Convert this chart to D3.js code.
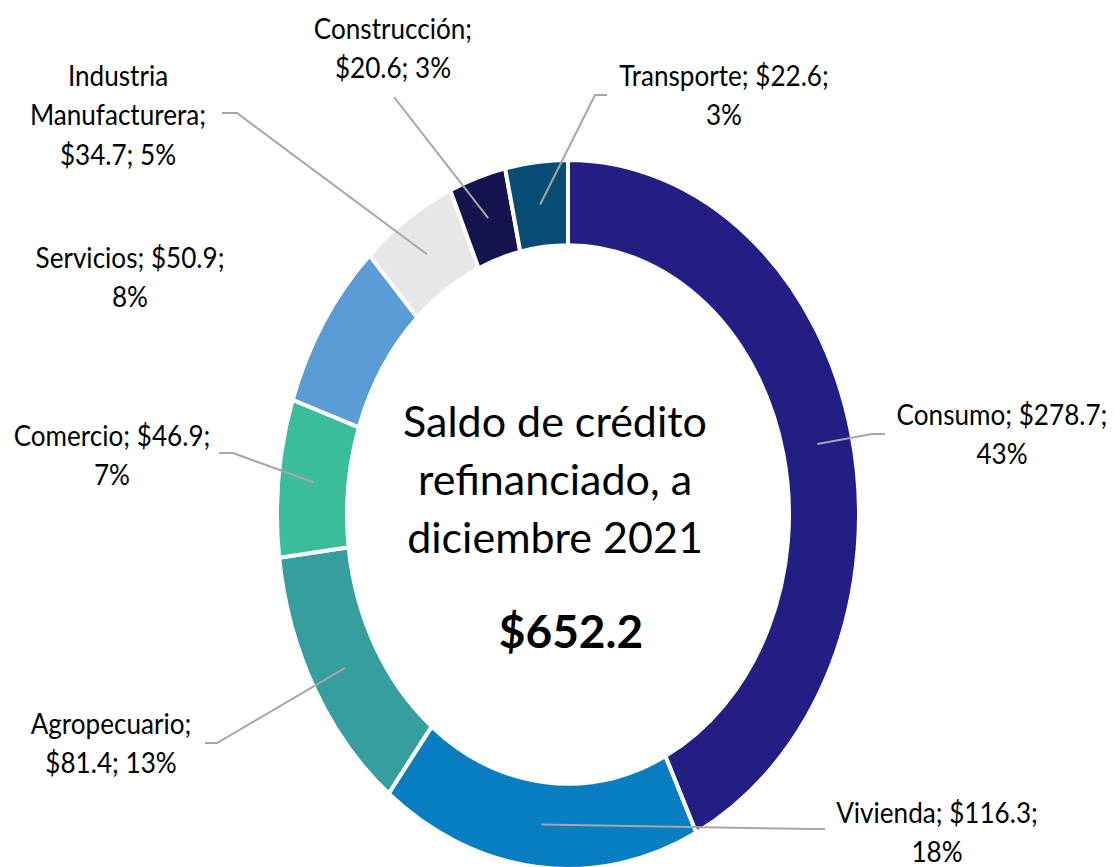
<!DOCTYPE html>
<html>
<head>
<meta charset="utf-8">
<script src="https://cdn.jsdelivr.net/npm/d3@7"></script>
<style>
  html, body { margin: 0; padding: 0; background: #ffffff; }
  svg { display: block; }
</style>
</head>
<body>
<svg id="chart" width="1114" height="867"></svg>
<script>
// ---- data ----
const categories = ["Consumo", "Vivienda", "Agropecuario", "Comercio", "Servicios",
                    "Industria Manufacturera", "Construcción", "Transporte"];
const values = [278.7, 116.3, 81.4, 46.9, 50.9, 34.7, 20.6, 22.6];
const percents = ["43%", "18%", "13%", "7%", "8%", "5%", "3%", "3%"];
const labelLines = [
  ["Consumo; $278.7;", "43%"],
  ["Vivienda; $116.3;", "18%"],
  ["Agropecuario;", "$81.4; 13%"],
  ["Comercio; $46.9;", "7%"],
  ["Servicios; $50.9;", "8%"],
  ["Industria", "Manufacturera;", "$34.7; 5%"],
  ["Construcción;", "$20.6; 3%"],
  ["Transporte; $22.6;", "3%"]
];
const centerTitle = ["Saldo de crédito", "refinanciado, a", "diciembre 2021"];
const totalLabel = "$652.2";

// ---- styles ----
const colors = ["#221E83", "#087DC2", "#369E9F", "#3BBC9B", "#5B9BD6",
                "#E6E7E8", "#141350", "#064C73"];

// ---- layout (positions only) ----
const cx = 568, cy = 514.5, outerR = 291, innerR = 221, yStretch = 1.218;
const labelLayout = [
  { x: 1002, y: 425, line: [[872, 434], [885, 434]] },
  { x: 937,  y: 823, line: [[812, 829], [825, 829]] },
  { x: 111,  y: 734, line: [[217, 743], [205, 743]] },
  { x: 112,  y: 446, line: [[233, 453], [219, 453]] },
  { x: 130,  y: 268, line: null },
  { x: 118,  y: 86,  line: [[237, 113], [222, 113]] },
  { x: 393,  y: 39,  line: [[394, 97], [394, 97]] },
  { x: 724,  y: 86,  line: [[595, 95], [607, 95]] }
];
const lineGap = 39.5;
const labelScaleX = 0.9;

const svg = d3.select("#chart");
const data = categories.map((c, i) => ({ name: c, value: values[i], idx: i }));

const pie = d3.pie().value(d => d.value).sort(null).startAngle(0).endAngle(2 * Math.PI);
const arcs = pie(data);
const arc = d3.arc().innerRadius(innerR).outerRadius(outerR);

const ring = svg.append("g")
  .attr("transform", `translate(${cx},${cy}) scale(1,${yStretch})`);

ring.selectAll("path")
  .data(arcs)
  .join("path")
  .attr("d", arc)
  .attr("fill", d => colors[d.data.idx])
  .attr("stroke", "#ffffff")
  .attr("stroke-width", 4)
  .attr("vector-effect", "non-scaling-stroke");

// leader lines
const lineGen = d3.line();
const leaders = svg.append("g");
arcs.forEach(a => {
  const lay = labelLayout[a.data.idx];
  if (!lay.line) return;
  const c = arc.centroid(a);
  const start = [cx + c[0], cy + c[1] * yStretch];
  leaders.append("path")
    .attr("d", lineGen([start, ...lay.line]))
    .attr("fill", "none")
    .attr("stroke", "#A6A6A6")
    .attr("stroke-width", 2);
});

// labels
const labels = svg.append("g");
labelLines.forEach((lines, i) => {
  const lay = labelLayout[i];
  const g = labels.append("g")
    .attr("transform", `translate(${lay.x},${lay.y}) scale(${labelScaleX},1)`);
  lines.forEach((t, j) => {
    g.append("text")
      .attr("x", 0)
      .attr("y", j * lineGap)
      .attr("text-anchor", "middle")
      .attr("font-family", "Lato, 'Noto Sans', sans-serif")
      .attr("font-size", 29)
      .attr("fill", "#000000")
      .text(t);
  });
});

// center text
const center = svg.append("g");
centerTitle.forEach((t, j) => {
  center.append("text")
    .attr("x", 555)
    .attr("y", 437 + j * 58)
    .attr("text-anchor", "middle")
    .attr("font-family", "Lato, 'Noto Sans', sans-serif")
    .attr("font-size", 43)
    .attr("fill", "#000000")
    .text(t);
});
center.append("text")
  .attr("x", 571)
  .attr("y", 648)
  .attr("text-anchor", "middle")
  .attr("font-family", "Lato, 'Noto Sans', sans-serif")
  .attr("font-weight", "bold")
  .attr("font-size", 46)
  .attr("fill", "#000000")
  .text(totalLabel);
</script>
</body>
</html>
